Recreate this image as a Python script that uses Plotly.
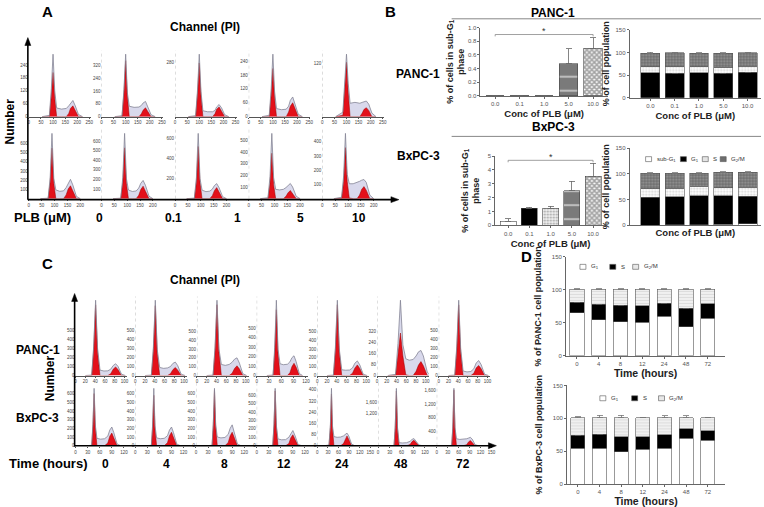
import plotly.graph_objects as go

W, H = 764, 507
FONT = "Liberation Sans, Arial, Helvetica, sans-serif"

# ---------------- panel A: PI histograms (channel, count) ----------------
A_DOSE_LABELS = ["0", "0.1", "1", "5", "10"]

A_PANC_CHANNEL = [55, 85, 93, 100, 107, 115, 135, 155, 165, 172, 182, 192, 205, 222]
A_PANC_TOTAL = [
    [0, 6, 130, 290, 120, 40, 35, 38, 50, 62, 75, 50, 10, 0],
    [0, 6, 170, 390, 150, 65, 58, 60, 70, 85, 95, 60, 12, 0],
    [0, 5, 140, 320, 130, 30, 25, 25, 32, 50, 62, 45, 10, 0],
    [0, 6, 120, 270, 110, 35, 30, 32, 45, 70, 85, 55, 10, 0],
    [0, 10, 80, 140, 75, 30, 32, 30, 32, 33, 35, 28, 8, 0],
]
A_PANC_FIT = [
    [0, 0, 95, 205, 85, 0, 0, 0, 15, 38, 50, 30, 0, 0],
    [0, 0, 150, 350, 130, 0, 0, 0, 18, 40, 55, 30, 0, 0],
    [0, 0, 120, 275, 110, 0, 0, 0, 15, 38, 50, 30, 0, 0],
    [0, 0, 90, 208, 80, 0, 0, 0, 20, 45, 60, 35, 0, 0],
    [0, 3, 65, 122, 55, 0, 0, 0, 8, 16, 20, 14, 0, 0],
]
A_PANC_YTICKS = [[0, 60, 120, 180, 240], [0, 80, 160, 240, 320], [280],
                 [0, 60, 120, 180, 240], [120]]
A_PANC_XTICKS = [0, 50, 100, 150, 200, 250]

A_BXPC_CHANNEL = [45, 75, 83, 90, 97, 105, 120, 135, 145, 153, 162, 171, 185, 200]
A_BXPC_TOTAL = [
    [0, 5, 230, 710, 220, 95, 80, 85, 120, 170, 210, 150, 25, 0],
    [0, 5, 220, 680, 210, 90, 75, 80, 110, 160, 190, 140, 25, 0],
    [0, 5, 210, 650, 200, 85, 70, 75, 95, 130, 150, 110, 20, 0],
    [0, 8, 190, 560, 180, 80, 75, 80, 95, 115, 130, 100, 20, 0],
    [0, 10, 160, 460, 170, 105, 105, 112, 122, 130, 135, 115, 25, 0],
]
A_BXPC_FIT = [
    [0, 0, 180, 550, 170, 0, 0, 0, 40, 105, 140, 90, 0, 0],
    [0, 0, 170, 530, 160, 0, 0, 0, 35, 95, 130, 80, 0, 0],
    [0, 0, 165, 520, 160, 0, 0, 0, 30, 80, 110, 70, 0, 0],
    [0, 0, 130, 390, 120, 0, 0, 0, 20, 50, 70, 45, 0, 0],
    [0, 3, 120, 360, 120, 5, 0, 0, 25, 65, 85, 60, 0, 0],
]
A_BXPC_YTICKS = [[100, 200, 300, 400, 500, 600], [100, 200, 300, 400, 500, 600],
                 [200, 400, 600], [100, 200, 300, 400, 500], [100, 200, 300, 400, 500]]
A_BXPC_XTICKS = [0, 50, 100, 150, 200]

# ---------------- panel C: PI histograms over time ----------------
C_TIME_LABELS = ["0", "4", "8", "12", "24", "48", "72"]

C_PANC_CHANNEL = [
    [20, 33, 37, 41, 45, 50, 58, 66, 72, 77, 82, 87, 94, 102],
    [20, 33, 37, 41, 45, 50, 58, 66, 72, 77, 82, 87, 94, 102],
    [20, 33, 37, 41, 45, 50, 58, 66, 72, 77, 82, 87, 94, 102],
    [25, 40, 44, 48, 52, 57, 65, 75, 81, 86, 91, 96, 104, 112],
    [20, 33, 37, 41, 45, 50, 58, 66, 72, 77, 82, 87, 94, 102],
    [22, 38, 43, 48, 53, 59, 66, 74, 80, 85, 90, 95, 103, 110],
    [20, 33, 37, 41, 45, 50, 58, 66, 72, 77, 82, 87, 94, 102],
]
C_PANC_TOTAL = [
    [0, 5, 320, 830, 300, 60, 50, 52, 70, 110, 130, 100, 15, 0],
    [0, 5, 310, 840, 290, 90, 80, 85, 100, 135, 150, 110, 15, 0],
    [0, 5, 320, 850, 300, 125, 115, 125, 150, 185, 200, 140, 20, 0],
    [0, 5, 300, 800, 280, 125, 115, 120, 145, 190, 210, 150, 20, 0],
    [0, 5, 320, 850, 300, 65, 60, 62, 85, 140, 165, 120, 15, 0],
    [0, 8, 230, 540, 220, 120, 110, 115, 140, 170, 180, 140, 25, 0],
    [0, 5, 320, 830, 300, 50, 40, 45, 75, 140, 165, 120, 15, 0],
]
C_PANC_FIT = [
    [0, 0, 280, 780, 260, 0, 0, 0, 20, 70, 95, 65, 0, 0],
    [0, 0, 270, 780, 250, 0, 0, 0, 20, 65, 90, 60, 0, 0],
    [0, 0, 280, 800, 270, 0, 0, 0, 25, 80, 110, 75, 0, 0],
    [0, 0, 250, 700, 240, 0, 0, 0, 30, 95, 130, 90, 0, 0],
    [0, 0, 280, 800, 270, 0, 0, 0, 25, 85, 120, 80, 0, 0],
    [0, 3, 150, 305, 140, 5, 0, 0, 30, 75, 100, 70, 0, 0],
    [0, 0, 280, 780, 260, 0, 0, 0, 25, 85, 110, 75, 0, 0],
]
C_PANC_YTICKS = [[0, 100, 200, 300, 400, 500]] * 5 + [[0, 80, 160, 240, 320]] + \
                [[0, 100, 200, 300, 400, 500]]
C_PANC_XTICKS = [[0, 20, 40, 60, 80, 100]] * 3 + [[0, 30, 60, 90, 120]] + \
                [[0, 20, 40, 60, 80, 100]] * 3
C_PANC_XMAX = [106, 106, 106, 126, 106, 106, 106]

C_BXPC_CHANNEL = [
    [25, 40, 43, 46, 49, 53, 62, 72, 80, 85, 90, 95, 103, 112],
    [25, 40, 43, 46, 49, 53, 62, 72, 80, 85, 90, 95, 103, 112],
    [25, 40, 43, 46, 49, 53, 62, 72, 80, 85, 90, 95, 103, 112],
    [25, 40, 43, 46, 49, 53, 62, 72, 80, 85, 90, 95, 103, 112],
    [20, 33, 37, 40, 43, 47, 56, 66, 74, 79, 84, 89, 97, 106],
    [25, 41, 44, 47, 50, 54, 63, 73, 82, 87, 92, 97, 105, 114],
    [25, 41, 44, 47, 50, 54, 63, 73, 82, 87, 92, 97, 105, 114],
]
C_BXPC_TOTAL = [
    [0, 5, 250, 660, 240, 85, 75, 80, 110, 180, 215, 150, 20, 0],
    [0, 5, 240, 660, 230, 90, 80, 85, 115, 180, 215, 150, 20, 0],
    [0, 5, 250, 660, 240, 100, 90, 95, 130, 200, 240, 160, 20, 0],
    [0, 5, 250, 680, 240, 80, 70, 72, 100, 150, 180, 125, 15, 0],
    [0, 5, 150, 410, 140, 65, 60, 62, 70, 82, 90, 70, 12, 0],
    [0, 10, 700, 2100, 650, 110, 100, 110, 160, 230, 260, 180, 25, 0],
    [0, 10, 550, 1650, 520, 200, 180, 185, 200, 220, 240, 190, 30, 0],
]
C_BXPC_FIT = [
    [0, 0, 220, 600, 210, 0, 0, 0, 30, 110, 145, 95, 0, 0],
    [0, 0, 200, 580, 190, 0, 0, 0, 35, 115, 155, 100, 0, 0],
    [0, 0, 230, 640, 220, 0, 0, 0, 35, 115, 155, 100, 0, 0],
    [0, 0, 230, 650, 220, 0, 0, 0, 25, 95, 130, 85, 0, 0],
    [0, 0, 130, 370, 120, 0, 0, 0, 15, 50, 70, 45, 0, 0],
    [0, 0, 650, 2000, 600, 0, 0, 0, 40, 150, 200, 130, 0, 0],
    [0, 0, 500, 1600, 480, 0, 0, 0, 30, 110, 150, 100, 0, 0],
]
C_BXPC_YTICKS = [[0, 100, 200, 300, 400, 500, 600]] * 4 + [[0, 80, 160, 240, 320, 400]] + \
                [[1200, 1600], [400, 800, 1200, 1600]]
C_BXPC_XTICKS = [[0, 30, 60, 90, 120]] * 4 + [[0, 30, 60, 90, 120, 150]] + \
                [[0, 30, 60, 90, 120], [0, 30, 60, 90, 120, 150]]
C_BXPC_XMAX = [136, 136, 136, 136, 155, 140, 155]

# ---------------- panel B: sub-G1 and cell-cycle distribution ----------------
B_CONC = ["0.0", "0.1", "1.0", "5.0", "10.0"]
B_PANC_SUBG1 = [0, 0, 0, 0.47, 0.70]
B_PANC_SUBG1_ERR = [None, None, None, 0.22, 0.15]
B_BXPC_SUBG1 = [0.30, 1.25, 1.25, 2.50, 3.55]
B_BXPC_SUBG1_ERR = [0.17, 0.05, 0.13, 0.70, 0.95]

B_PANC_G1 = [55, 54, 55, 54, 56]
B_PANC_G1_ERR = [3, 2, 1, 1, 1]
B_PANC_S = [13, 14, 14, 13, 13]
B_PANC_G2M = [30, 31, 29, 31, 30]
B_PANC_G2M_ERR = [2, 1, 1, 1, 1]

B_BXPC_G1 = [54, 54.5, 56.5, 55.5, 53]
B_BXPC_S = [17, 16, 18, 15, 18]
B_BXPC_G2M = [30, 30, 26, 30, 29]
B_BXPC_G2M_ERR = [1, 1, 1, 1, 1]

# ---------------- panel D: cell-cycle distribution over time ----------------
D_TIME = ["0", "4", "8", "12", "24", "48", "72"]
D_PANC_G1 = [65, 55, 52, 51, 60, 44, 57]
D_PANC_S = [16, 23, 25, 25, 20, 28, 22]
D_PANC_S_ERR = [1, 1, 1, 1, 1, 1, 3]
D_PANC_G2M = [20, 23, 24, 25, 21, 29, 22]
D_PANC_G2M_ERR = [1, 1, 1, 1, 1, 1, 1]
D_BXPC_G1 = [55, 55, 49, 53, 55, 70, 67]
D_BXPC_S = [19, 21, 23, 19, 20, 14, 14]
D_BXPC_S_ERR = [1, 1, 1, 1, 1, 1, 1]
D_BXPC_G2M = [27, 25, 29, 29, 26, 17, 20]
D_BXPC_G2M_ERR = [1.5, 4, 4, 1, 3, 3, 1]

# -------------------------------------------------------------------------
fig = go.Figure()
layout = {}
shapes = []
axis_count = [0]


def px_x(x0, x1):
    return [x0 / W, x1 / W]


def px_y(y0, y1):
    return [1 - y1 / H, 1 - y0 / H]


def new_axes(xdom, ydom, xopts, yopts):
    axis_count[0] += 1
    k = axis_count[0]
    sx = "" if k == 1 else str(k)
    layout["xaxis" + sx] = dict(domain=xdom, anchor="y" + sx, fixedrange=True,
                                showgrid=False, zeroline=False, **xopts)
    layout["yaxis" + sx] = dict(domain=ydom, anchor="x" + sx, fixedrange=True,
                                showgrid=False, zeroline=False, **yopts)
    return "x" + sx, "y" + sx


def label(x, y, text, size=12, angle=0, xanchor="center", color="black"):
    fig.add_annotation(x=x / W, y=1 - y / H, xref="paper", yref="paper", text=text,
                       showarrow=False, textangle=angle, xanchor=xanchor, yanchor="middle",
                       font=dict(family=FONT, size=size, color=color))


def paper_line(x0, y0, x1, y1, color="#777", width=1):
    shapes.append(dict(type="line", xref="paper", yref="paper", x0=x0 / W, x1=x1 / W,
                       y0=1 - y0 / H, y1=1 - y1 / H, line=dict(color=color, width=width)))


def paper_path(points):
    path = "M " + " L ".join(f"{x / W},{1 - y / H}" for x, y in points) + " Z"
    shapes.append(dict(type="path", xref="paper", yref="paper", path=path,
                       fillcolor="black", line=dict(color="black", width=0.5)))


def histogram(left, top, width, bottom, ch, total, fit, yticks, xticks, xmax,
              ypad, own_baseline, dotted_axis):
    small = dict(family=FONT, size=4.5, color="#444")
    xa, ya = new_axes(
        px_x(left, left + width), px_y(top, bottom),
        dict(range=[0, xmax], tickvals=xticks, tickfont=small, ticks="outside",
             ticklen=1.5, tickcolor="#555", showline=own_baseline, linecolor="#555",
             linewidth=0.8),
        dict(range=[0, max(total) * ypad], tickvals=yticks, tickfont=small,
             ticks="", showline=False, tickformat=","))
    common = dict(x=ch, xaxis=xa, yaxis=ya, mode="lines", showlegend=False,
                  hoverinfo="skip")
    fig.add_trace(go.Scatter(y=total, fill="tozeroy", fillcolor="#d9d9ec",
                             line=dict(color="#d9d9ec", width=0), **common))
    fig.add_trace(go.Scatter(y=fit, fill="tozeroy", fillcolor="#e3101a",
                             line=dict(color="#9b0000", width=0.5), **common))
    fig.add_trace(go.Scatter(y=total, line=dict(color="#858595", width=0.8), **common))
    if dotted_axis:
        shapes.append(dict(type="line", xref=xa, yref=ya + " domain", x0=0, x1=0,
                           y0=0, y1=1, line=dict(color="#b0b0b0", width=0.8, dash="dot")))


# ---- panel A ----
label(47, 9, "<b>A</b>", 15)
label(205, 24, "<b>Channel (PI)</b>", 12)
label(9, 120, "<b>Number</b>", 12, angle=-90)
label(419, 72, "<b>PANC-1</b>", 12)
label(420, 155, "<b>BxPC-3</b>", 12)
label(42, 217, "<b>PLB (μM)</b>", 13)
for xpos, txt in zip([99, 173, 238, 301, 360], A_DOSE_LABELS):
    label(xpos, 218, "<b>" + txt + "</b>", 12)

a_left = [28, 101, 175, 249, 323]
for i in range(5):
    histogram(a_left[i], 48, 62, 115, A_PANC_CHANNEL, A_PANC_TOTAL[i], A_PANC_FIT[i],
              A_PANC_YTICKS[i], A_PANC_XTICKS, 255, 1.06, True, i > 0)
for i in range(5):
    histogram(a_left[i], 128, 62, 198, A_BXPC_CHANNEL, A_BXPC_TOTAL[i], A_BXPC_FIT[i],
              A_BXPC_YTICKS[i], A_BXPC_XTICKS, 240, 1.06, False, i > 0)
paper_line(27, 199, 27, 42, "black", 1.6)
paper_path([(27, 35), (24, 43), (30, 43)])
paper_line(27, 199, 393, 199, "black", 1.6)
paper_path([(400, 199), (392, 196), (392, 202)])

# ---- panel C ----
label(47, 264, "<b>C</b>", 15)
label(205, 280, "<b>Channel (PI)</b>", 12)
label(49, 380, "<b>Number</b>", 12, angle=-90)
label(37, 351, "<b>PANC-1</b>", 12)
label(37, 420, "<b>BxPC-3</b>", 12)
label(48, 466, "<b>Time (hours)</b>", 13)
for xpos, txt in zip([105, 166, 225, 284, 343, 402, 464], C_TIME_LABELS):
    label(xpos, 467, "<b>" + txt + "</b>", 12)

c_left_top = [75, 135, 197, 257, 318, 378, 440]
c_left_bot = [75, 135, 196, 257, 318, 379, 438]
for i in range(7):
    histogram(c_left_top[i], 297, 52, 377, C_PANC_CHANNEL[i], C_PANC_TOTAL[i],
              C_PANC_FIT[i], C_PANC_YTICKS[i], C_PANC_XTICKS[i], C_PANC_XMAX[i],
              1.05, True, i > 0)
for i in range(7):
    histogram(c_left_bot[i], 383, 55 if i < 6 else 57, 448, C_BXPC_CHANNEL[i],
              C_BXPC_TOTAL[i], C_BXPC_FIT[i], C_BXPC_YTICKS[i], C_BXPC_XTICKS[i],
              C_BXPC_XMAX[i], 1.12, False, i > 0)
paper_line(74, 449, 74, 301, "black", 1.6)
paper_path([(74, 294), (71, 302), (77, 302)])
paper_line(74, 448, 491, 448, "black", 1.6)
paper_path([(498, 448), (490, 445), (490, 451)])

# ---- panel B ----
tick6 = dict(family=FONT, size=6, color="#555")
title_font = dict(family=FONT, size=9, color="#222")


def bar_axes(left, right, top, bottom, yrange, yticks, show_xticks, xrange, xtitle, ytitle,
             ytitle_standoff=4):
    return new_axes(
        px_x(left, right), px_y(top, bottom),
        dict(type="category", range=xrange, showline=True, linecolor="#666", linewidth=1,
             ticks="outside" if show_xticks else "", ticklen=2, tickcolor="#666",
             tickfont=tick6, showticklabels=show_xticks,
             title=dict(text=xtitle, font=dict(family=FONT, size=9.5, color="#222"),
                        standoff=4)),
        dict(range=yrange, tickvals=yticks, showline=True, linecolor="#666", linewidth=1,
             ticks="outside", ticklen=2, tickcolor="#666", tickfont=tick6,
             title=dict(text=ytitle, font=title_font, standoff=ytitle_standoff)))


SUBG1_COLOR = ["white", "black", "#f4f4f4", "#7a7a7a", "white"]
SUBG1_SHAPE = ["", "", ".", "-", "x"]
SUBG1_FG = ["white", "black", "#b9b9b9", "#b8b8b8", "#111"]
SUBG1_SIZE = [4, 4, 3, 14, 3.5]
SUBG1_SOLID = [0.3, 0.3, 0.35, 0.15, 0.7]


def subg1_chart(axes, values, errs, sig_y, star_y):
    xa, ya = axes
    fig.add_trace(go.Bar(
        x=B_CONC, y=values, xaxis=xa, yaxis=ya, width=0.75, showlegend=False,
        marker=dict(color=SUBG1_COLOR, line=dict(color="#444", width=0.6),
                    pattern=dict(shape=SUBG1_SHAPE, fgcolor=SUBG1_FG, size=SUBG1_SIZE,
                                 solidity=SUBG1_SOLID, fillmode="overlay")),
        error_y=dict(type="data", symmetric=False, array=errs,
                     arrayminus=[0] * len(errs), color="#666", thickness=0.8, width=3)))
    shapes.append(dict(type="path", xref=xa, yref=ya,
                       path=f"M 0,{sig_y * 0.97} L 0,{sig_y} L 4,{sig_y} L 4,{sig_y * 0.97}",
                       line=dict(color="#888", width=0.8)))
    fig.add_annotation(x=2, y=star_y, xref=xa, yref=ya, text="*", showarrow=False,
                       font=dict(family=FONT, size=9, color="#333"))


def stacked(axes, x, series, colors, shapes_, fgs, errs, width):
    xa, ya = axes
    for y, col, shp, fg, err in zip(series, colors, shapes_, fgs, errs):
        fig.add_trace(go.Bar(
            x=x, y=y, xaxis=xa, yaxis=ya, width=width, showlegend=False,
            marker=dict(color=col, line=dict(color="#555", width=0.6),
                        pattern=dict(shape=shp, fgcolor=fg, size=3, solidity=0.4,
                                     fillmode="overlay")),
            error_y=None if err is None else dict(
                type="data", symmetric=False, array=err, arrayminus=[0] * len(err),
                color="#777", thickness=0.8, width=3)))


label(392, 9, "<b>B</b>", 15)
label(555, 10, "<b>PANC-1</b>", 12)
label(555, 125, "<b>BxPC-3</b>", 12)
paper_line(453, 16, 764, 16, "#888", 1)
paper_line(453, 135, 764, 135, "#888", 1)

ytitle_sub = "<b>% of cells in sub-G<sub>1</sub><br>phase</b>"
ax_b1 = bar_axes(482, 610, 25, 94, [0, 1.0], [0, 0.2, 0.4, 0.6, 0.8, 1.0], True,
                 [-0.6, 4.6], "<b>Conc of PLB (μM)</b>", ytitle_sub, 1)
layout["yaxis" + ax_b1[1][1:]]["tickformat"] = ".1f"
subg1_chart(ax_b1, B_PANC_SUBG1, B_PANC_SUBG1_ERR, 0.9, 0.95)

ax_b2 = bar_axes(632, 764, 27, 96, [0, 150], [0, 50, 100, 150], True, [-0.85, 4.55],
                 "<b>Conc of PLB (μM)</b>", "<b>% of cell population</b>")
stacked(ax_b2, B_CONC,
        [B_PANC_SUBG1, B_PANC_G1, B_PANC_S, B_PANC_G2M],
        ["white", "black", "white", "#6e6e6e"], ["", "", ".", "."],
        ["white", "black", "#a8a8a8", "#c4c4c4"],
        [None, B_PANC_G1_ERR, None, B_PANC_G2M_ERR], 0.78)

ax_b3 = bar_axes(497, 608, 155, 225, [0, 5], [0, 1, 2, 3, 4, 5], True, [-0.6, 4.6],
                 "<b>Conc of PLB (μM)</b>", ytitle_sub, 6)
subg1_chart(ax_b3, B_BXPC_SUBG1, B_BXPC_SUBG1_ERR, 4.7, 4.95)

ax_b4 = bar_axes(632, 764, 147, 225, [0, 150], [0, 50, 100, 150], False, [-0.85, 4.55],
                 "<b>Conc of PLB (μM)</b>", "<b>% of cell population</b>")
stacked(ax_b4, B_CONC,
        [B_BXPC_SUBG1, B_BXPC_G1, B_BXPC_S, B_BXPC_G2M],
        ["white", "black", "white", "#6e6e6e"], ["", "", ".", "."],
        ["white", "black", "#a8a8a8", "#c4c4c4"],
        [None, None, None, B_BXPC_G2M_ERR], 0.78)


def legend_item(x, y, fill, text):
    shapes.append(dict(type="rect", xref="paper", yref="paper", x0=x / W, x1=(x + 6) / W,
                       y0=1 - (y + 2.5) / H, y1=1 - (y - 2.5) / H, fillcolor=fill,
                       line=dict(color="#555", width=0.6)))
    label(x + 9, y, text, 6, xanchor="left", color="#333")


legend_item(648, 158, "white", "sub-G<sub>1</sub>")
legend_item(683, 158, "black", "G<sub>1</sub>")
legend_item(705, 158, "#e4e4e4", "S")
legend_item(723, 158, "#6e6e6e", "G<sub>2</sub>/M")

# ---- panel D ----
label(528, 257, "<b>D</b>", 15)
d_colors = ["white", "black", "#f2f2f2"]
d_shapes = ["", "", "-"]
d_fgs = ["white", "black", "#c6c6c6"]

ax_d1 = bar_axes(568, 728, 257, 357, [0, 150], [0, 50, 100, 150], True, [-0.5, 6.8],
                 "<b>Time (hours)</b>", "<b>% of PANC-1 cell population</b>", 8)
stacked(ax_d1, D_TIME, [D_PANC_G1, D_PANC_S, D_PANC_G2M], d_colors, d_shapes, d_fgs,
        [None, D_PANC_S_ERR, D_PANC_G2M_ERR], 0.65)
ax_d2 = bar_axes(569, 728, 387, 487, [0, 150], [0, 50, 100, 150], True, [-0.5, 6.8],
                 "<b>Time (hours)</b>", "<b>% of BxPC-3 cell population</b>", 8)
stacked(ax_d2, D_TIME, [D_BXPC_G1, D_BXPC_S, D_BXPC_G2M], d_colors, d_shapes, d_fgs,
        [None, D_BXPC_S_ERR, D_BXPC_G2M_ERR], 0.65)
for ax in (ax_d1, ax_d2):
    layout["xaxis" + ax[0][1:]]["title"]["font"]["size"] = 10.5
    layout["xaxis" + ax[0][1:]]["title"]["standoff"] = 2

legend_item(582, 267, "white", "G<sub>1</sub>")
legend_item(612, 267, "black", "S")
legend_item(635, 267, "#e8e8e8", "G<sub>2</sub>/M")
legend_item(602, 400, "white", "G<sub>1</sub>")
legend_item(634, 400, "black", "S")
legend_item(661, 400, "#e8e8e8", "G<sub>2</sub>/M")

fig.update_layout(
    width=W, height=H, margin=dict(l=0, r=0, t=0, b=0),
    paper_bgcolor="white", plot_bgcolor="white", barmode="stack",
    font=dict(family=FONT), showlegend=False, shapes=shapes, **layout)

# the page's default 8px body margin would push the figure off-window
fig.write_html("out.html", config={"displayModeBar": False},
               post_script="document.body.style.margin='0';")
